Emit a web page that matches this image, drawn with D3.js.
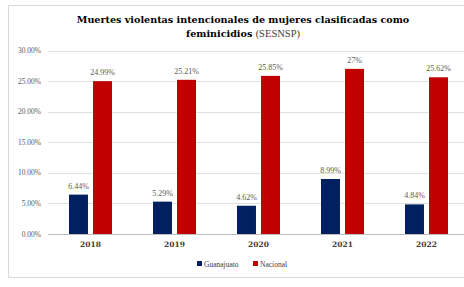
<!DOCTYPE html>
<html>
<head>
<meta charset="utf-8">
<script src="https://cdn.jsdelivr.net/npm/d3@7"></script>
<style>
  body { margin: 0; background: #fff; }
  svg { display: block; }
</style>
</head>
<body>
<div class="graph"></div>
<script>
var years = ['2018', '2019', '2020', '2021', '2022'];
var series = ['Guanajuato', 'Nacional'];
var guanajuato = [6.44, 5.29, 4.62, 8.99, 4.84];
var nacional = [24.99, 25.21, 25.85, 27, 25.62];
var guanajuatoLabels = ['6.44%', '5.29%', '4.62%', '8.99%', '4.84%'];
var nacionalLabels = ['24.99%', '25.21%', '25.85%', '27%', '25.62%'];
var yTicks = [0, 5, 10, 15, 20, 25, 30];

var colors = { Guanajuato: '#002060', Nacional: '#c00000' };

var width = 464, height = 287;

var rows = years.map(function (y, i) {
  return {
    year: y,
    values: [
      { key: 'Guanajuato', value: guanajuato[i], label: guanajuatoLabels[i] },
      { key: 'Nacional', value: nacional[i], label: nacionalLabels[i] }
    ]
  };
});

var svg = d3.select('.graph')
  .append('svg')
  .attr('width', width)
  .attr('height', height);

// chart frame (right side is cropped in the original)
svg.append('path')
  .attr('d', 'M470,5.5 H8.5 V277.5 H470')
  .attr('fill', 'none')
  .attr('stroke', '#d9d9d9')
  .attr('stroke-width', 1);

var x0 = d3.scaleBand()
  .domain(years)
  .range([48.5, 468.5]);

var x1 = d3.scaleBand()
  .domain(series)
  .range([-21.5, 21.5])
  .paddingInner(0.21);

var y = d3.scaleLinear()
  .domain([0, 30])
  .range([234, 50.5]);

// gridlines
svg.append('g')
  .selectAll('line')
  .data(yTicks)
  .enter()
  .append('line')
  .attr('x1', 48)
  .attr('x2', 470)
  .attr('y1', function (d) { return Math.round(y(d)) + 0.5; })
  .attr('y2', function (d) { return Math.round(y(d)) + 0.5; })
  .attr('stroke', function (d) { return d === 0 ? '#bfbfbf' : '#e0e0e0'; })
  .attr('stroke-width', 1);

// y tick labels
svg.append('g')
  .selectAll('text')
  .data(yTicks)
  .enter()
  .append('text')
  .attr('x', 41)
  .attr('y', function (d) { return y(d); })
  .attr('dy', '0.35em')
  .attr('text-anchor', 'end')
  .attr('font-family', 'Liberation Serif')
  .attr('font-size', 7.5)
  .attr('fill', '#595959')
  .text(function (d) { return d.toFixed(2) + '%'; });

var groups = svg.append('g')
  .selectAll('g.year')
  .data(rows)
  .enter()
  .append('g')
  .attr('class', 'year')
  .attr('transform', function (d) {
    return 'translate(' + (x0(d.year) + x0.bandwidth() / 2) + ',0)';
  });

groups.selectAll('rect')
  .data(function (d) { return d.values; })
  .enter()
  .append('rect')
  .attr('x', function (d) { return x1(d.key); })
  .attr('width', x1.bandwidth())
  .attr('y', function (d) { return y(d.value); })
  .attr('height', function (d) { return y(0) - y(d.value); })
  .attr('fill', function (d) { return colors[d.key]; });

groups.selectAll('text.val')
  .data(function (d) { return d.values; })
  .enter()
  .append('text')
  .attr('class', 'val')
  .attr('x', function (d) { return x1(d.key) + x1.bandwidth() / 2; })
  .attr('y', function (d) { return y(d.value) - 6; })
  .attr('text-anchor', 'middle')
  .attr('font-family', 'Liberation Serif')
  .attr('font-size', 8)
  .attr('fill', '#595959')
  .text(function (d) { return d.label; });

// year labels
groups.append('text')
  .attr('x', 0)
  .attr('y', 247)
  .attr('text-anchor', 'middle')
  .attr('font-family', 'DejaVu Serif')
  .attr('font-weight', 'bold')
  .attr('font-size', 7.5)
  .attr('fill', '#404040')
  .text(function (d) { return d.year; });

// title
var title = svg.append('text')
  .attr('text-anchor', 'middle')
  .attr('font-family', 'DejaVu Serif')
  .attr('fill', '#000');
title.append('tspan')
  .attr('x', 243)
  .attr('y', 23)
  .attr('font-weight', 'bold')
  .attr('font-size', 9.6)
  .text('Muertes violentas intencionales de mujeres clasificadas como');
title.append('tspan')
  .attr('x', 243)
  .attr('y', 37)
  .attr('font-weight', 'bold')
  .attr('font-size', 9.6)
  .text('feminicidios ')
  .append('tspan')
  .attr('font-weight', 'normal')
  .attr('font-family', 'Liberation Serif')
  .attr('font-size', 10.5)
  .attr('fill', '#404040')
  .text('(SESNSP)');

// legend
var legend = svg.append('g')
  .attr('class', 'legend')
  .selectAll('g')
  .data(series)
  .enter()
  .append('g')
  .attr('transform', function (d, i) { return 'translate(' + [197, 253][i] + ',264)'; });
legend.append('rect')
  .attr('x', 0)
  .attr('y', -3)
  .attr('width', 5)
  .attr('height', 5)
  .attr('fill', function (d) { return colors[d]; });
legend.append('text')
  .attr('x', 7)
  .attr('y', 0)
  .attr('dy', '0.35em')
  .attr('font-family', 'Liberation Serif')
  .attr('font-size', 7.5)
  .attr('fill', '#404040')
  .text(function (d) { return d; });
</script>
</body>
</html>
